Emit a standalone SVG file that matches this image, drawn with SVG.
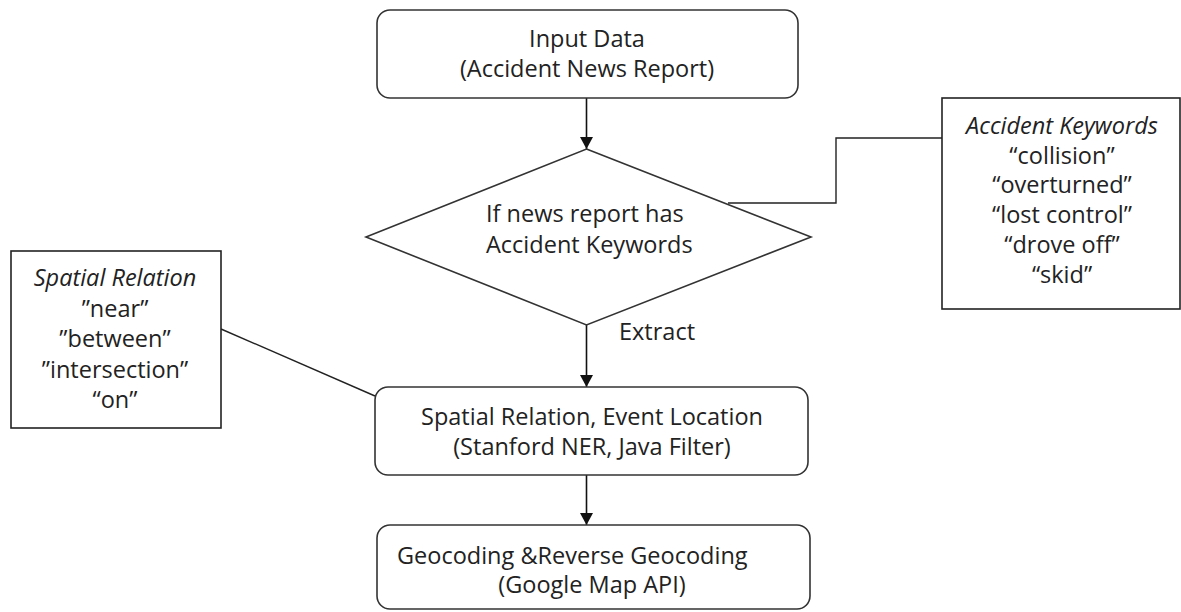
<svg xmlns="http://www.w3.org/2000/svg" width="1181" height="612" viewBox="0 0 1181 612">
  <defs>
    <marker id="arrow" markerUnits="userSpaceOnUse" markerWidth="14" markerHeight="14" refX="12" refY="6.5" orient="auto">
      <path d="M0,0 L12,6.5 L0,13 Z" fill="#111"/>
    </marker>
  </defs>
  <style>
    .box { fill: #ffffff; stroke: #333333; stroke-width: 1.6; }
    .note { fill: #ffffff; stroke: #222222; stroke-width: 1.6; }
    .link { fill: none; stroke: #222222; stroke-width: 1.4; }
    .flow { fill: none; stroke: #111111; stroke-width: 1.6; marker-end: url(#arrow); }
    text { font-family: "Open Sans", "Liberation Sans", sans-serif; font-size: 23.5px; fill: #222222; }
    .c { text-anchor: middle; }
    .i { font-style: italic; }
  </style>
  <rect width="1181" height="612" fill="#ffffff"/>

  <!-- connectors -->
  <g id="connectors">
    <line class="flow" x1="586.5" y1="98" x2="586.5" y2="149"/>
    <line class="flow" x1="586.5" y1="325" x2="586.5" y2="387"/>
    <line class="flow" x1="586.5" y1="475" x2="586.5" y2="525"/>
    <polyline class="link" points="728,203 836,203 836,138 942,138"/>
    <line class="link" x1="221" y1="329" x2="375" y2="396"/>
    <text x="619" y="340">Extract</text>
  </g>

  <g id="input-data">
    <rect class="box" x="377" y="10" width="421" height="88" rx="13"/>
    <text class="c" x="587" y="47">Input Data</text>
    <text class="c" x="587" y="77">(Accident News Report)</text>
  </g>

  <g id="keyword-check">
    <polygon class="box" points="586.5,149 811,237 586.5,325 366,237"/>
    <text x="486" y="222">If news report has</text>
    <text x="486" y="253">Accident Keywords</text>
  </g>

  <g id="accident-keywords">
    <rect class="note" x="942" y="98" width="238" height="211"/>
    <text class="c i" x="1062" y="134">Accident Keywords</text>
    <text class="c" x="1062" y="164">“collision”</text>
    <text class="c" x="1062" y="193">“overturned”</text>
    <text class="c" x="1062" y="223">“lost control”</text>
    <text class="c" x="1062" y="253">“drove off”</text>
    <text class="c" x="1062" y="283">“skid”</text>
  </g>

  <g id="spatial-relation">
    <rect class="note" x="11" y="251" width="210" height="177"/>
    <text class="c i" x="115" y="286">Spatial Relation</text>
    <text class="c" x="115" y="317">”near”</text>
    <text class="c" x="115" y="347">”between”</text>
    <text class="c" x="115" y="378">”intersection”</text>
    <text class="c" x="115" y="408">“on”</text>
  </g>

  <g id="extraction">
    <rect class="box" x="375" y="387" width="433" height="88" rx="13"/>
    <text class="c" x="592" y="425">Spatial Relation, Event Location</text>
    <text class="c" x="592" y="455">(Stanford NER, Java Filter)</text>
  </g>

  <g id="geocoding">
    <rect class="box" x="377" y="525" width="433" height="84" rx="13"/>
    <text x="397" y="564">Geocoding &amp;Reverse Geocoding</text>
    <text class="c" x="592" y="593">(Google Map API)</text>
  </g>
</svg>
